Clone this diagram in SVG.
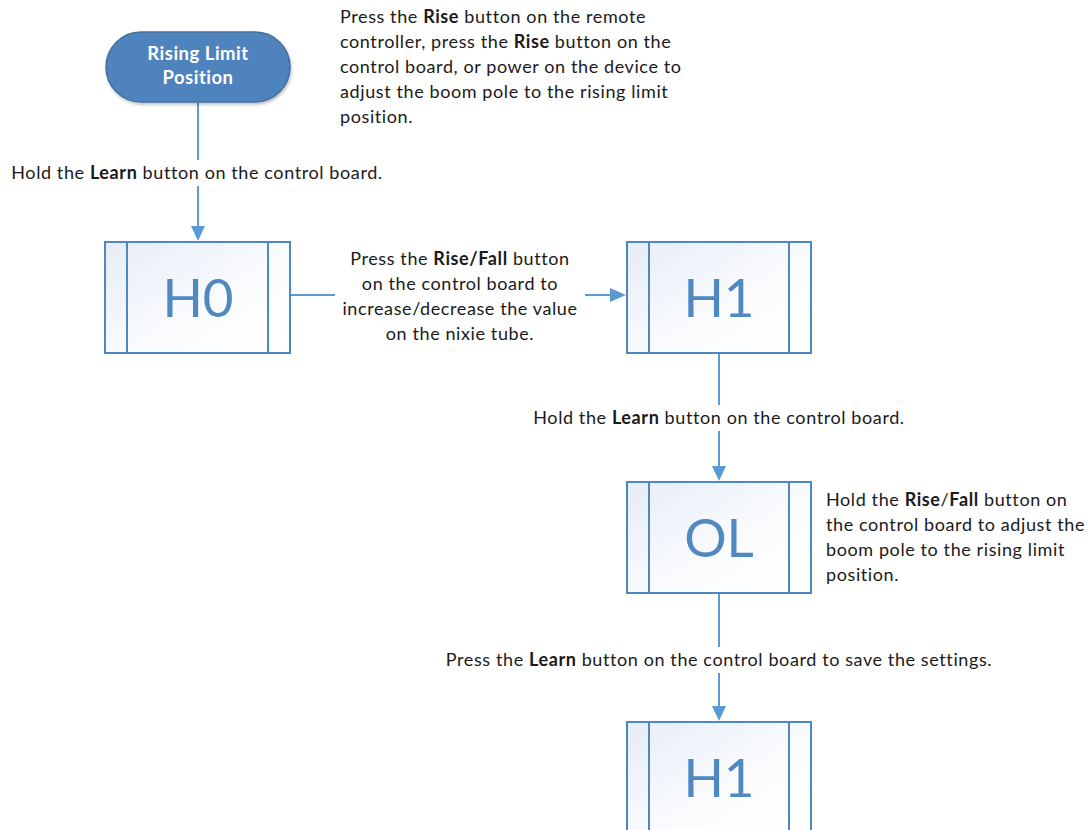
<svg xmlns="http://www.w3.org/2000/svg" width="1091" height="830" viewBox="0 0 1091 830">
<defs>
<linearGradient id="boxg" x1="0" y1="0" x2="1" y2="1">
<stop offset="0" stop-color="#e6ecf7"/>
<stop offset="0.6" stop-color="#fbfcfe"/>
<stop offset="1" stop-color="#ffffff"/>
</linearGradient>
<filter id="sh" x="-10%" y="-10%" width="130%" height="140%">
<feDropShadow dx="1" dy="2" stdDeviation="1.5" flood-color="#000" flood-opacity="0.25"/>
</filter>
</defs>
<style>
.t{font-family:Lato,"Liberation Sans",sans-serif;font-size:18px;letter-spacing:0.6px;fill:#1a1a1a}
.b{font-weight:bold}
.box{fill:url(#boxg);stroke:#5086c1;stroke-width:2}
.inner{stroke:#5086c1;stroke-width:2}
.big{font-family:Lato,"Liberation Sans",sans-serif;font-size:53px;fill:#4f88c2;text-anchor:middle}
.conn{stroke:#5b9bd5;stroke-width:2;fill:none}
.ah{fill:#5b9bd5}
.lbl{fill:#ffffff}
.pt{font-family:Lato,"Liberation Sans",sans-serif;font-size:18.5px;letter-spacing:0.5px;font-weight:bold;fill:#ffffff;text-anchor:middle}
</style>
<rect width="1091" height="830" fill="#ffffff"/>
<g id="connectors">
<line class="conn" x1="198" y1="103" x2="198" y2="228"/>
<path class="ah" d="M191,226 L205,226 L198,241 z"/>
<line class="conn" x1="290" y1="295" x2="612" y2="295"/>
<path class="ah" d="M610,288 L610,302 L626,295 z"/>
<line class="conn" x1="719" y1="353" x2="719" y2="468"/>
<path class="ah" d="M712,466 L726,466 L719,481 z"/>
<line class="conn" x1="719" y1="593" x2="719" y2="708"/>
<path class="ah" d="M712,706 L726,706 L719,721 z"/>
</g>
<g id="label-learn1">
<rect class="lbl" x="6" y="160" width="384" height="26"/>
<text class="t" x="197" y="179" text-anchor="middle">Hold the <tspan class="b">Learn</tspan> button on the control board.</text>
</g>
<g id="label-risefall">
<rect class="lbl" x="335" y="246" width="250" height="100"/>
<text class="t" text-anchor="middle"><tspan x="460" y="265">Press the <tspan class="b">Rise/Fall</tspan> button</tspan><tspan x="460" y="290">on the control board to</tspan><tspan x="460" y="315">increase/decrease the value</tspan><tspan x="460" y="340">on the nixie tube.</tspan></text>
</g>
<g id="label-learn2">
<rect class="lbl" x="528" y="405" width="384" height="26"/>
<text class="t" x="719" y="424" text-anchor="middle">Hold the <tspan class="b">Learn</tspan> button on the control board.</text>
</g>
<g id="label-save">
<rect class="lbl" x="440" y="647" width="560" height="26"/>
<text class="t" x="719" y="666" text-anchor="middle">Press the <tspan class="b">Learn</tspan> button on the control board to save the settings.</text>
</g>
<g id="start">
<rect x="106" y="32" width="184" height="70" rx="35" ry="35" fill="#4f83bd" stroke="#41719c" stroke-width="1.5" filter="url(#sh)"/>
<text class="pt" x="198" y="60">Rising Limit</text>
<text class="pt" x="198" y="84">Position</text>
</g>
<g id="note-top">
<text class="t"><tspan x="340" y="23">Press the <tspan class="b">Rise</tspan> button on the remote</tspan><tspan x="340" y="48">controller, press the <tspan class="b">Rise</tspan> button on the</tspan><tspan x="340" y="73">control board, or power on the device to</tspan><tspan x="340" y="98">adjust the boom pole to the rising limit</tspan><tspan x="340" y="123">position.</tspan></text>
</g>
<g id="H0">
<rect class="box" x="105" y="242" width="185" height="111"/>
<line class="inner" x1="127" y1="242" x2="127" y2="353"/>
<line class="inner" x1="268" y1="242" x2="268" y2="353"/>
<text class="big" x="198" y="317">H0</text>
</g>
<g id="H1a">
<rect class="box" x="627" y="242" width="184" height="111"/>
<line class="inner" x1="649" y1="242" x2="649" y2="353"/>
<line class="inner" x1="789" y1="242" x2="789" y2="353"/>
<text class="big" x="719" y="317">H1</text>
</g>
<g id="OL">
<rect class="box" x="627" y="482" width="184" height="111"/>
<line class="inner" x1="649" y1="482" x2="649" y2="593"/>
<line class="inner" x1="789" y1="482" x2="789" y2="593"/>
<text class="big" x="719" y="557">OL</text>
</g>
<g id="note-ol">
<text class="t"><tspan x="826" y="506">Hold the <tspan class="b">Rise</tspan>/<tspan class="b">Fall</tspan> button on</tspan><tspan x="826" y="531">the control board to adjust the</tspan><tspan x="826" y="556">boom pole to the rising limit</tspan><tspan x="826" y="581">position.</tspan></text>
</g>
<g id="H1b">
<rect class="box" x="627" y="722" width="184" height="111"/>
<line class="inner" x1="649" y1="722" x2="649" y2="833"/>
<line class="inner" x1="789" y1="722" x2="789" y2="833"/>
<text class="big" x="719" y="797">H1</text>
</g>
</svg>
